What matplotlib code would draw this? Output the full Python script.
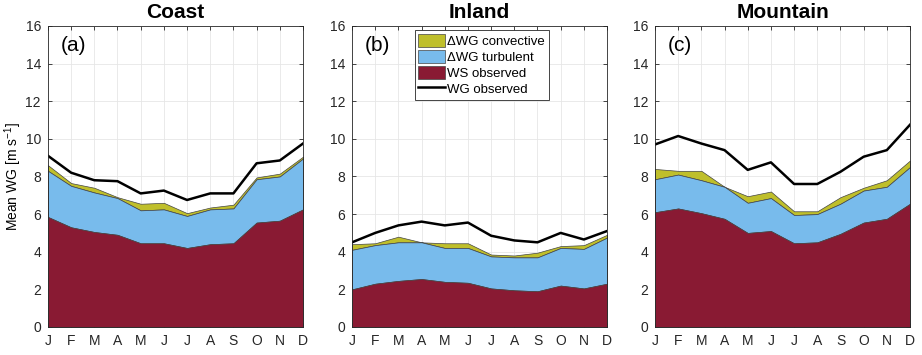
import numpy as np
import matplotlib
matplotlib.use("Agg")
import matplotlib.pyplot as plt
from matplotlib.patches import Patch
from matplotlib.lines import Line2D

plt.rcParams['font.family'] = ['Liberation Sans', 'DejaVu Sans']
plt.rcParams['mathtext.fontset'] = 'custom'
plt.rcParams['mathtext.rm'] = 'Liberation Sans'

# ── Datos ─────────────────────────────────────────────────────────────────────
months = ['J', 'F', 'M', 'A', 'M', 'J', 'J', 'A', 'S', 'O', 'N', 'D']
titles = ['Coast', 'Inland', 'Mountain']
panel_labels = ['(a)', '(b)', '(c)']

# WS observed (base)
ws_coast    = [5.85, 5.3, 5.05, 4.9, 4.45, 4.45, 4.2, 4.4, 4.45, 5.55, 5.65, 6.25]
ws_inland   = [2.0, 2.3, 2.45, 2.55, 2.4, 2.35, 2.05, 1.95, 1.9, 2.2, 2.05, 2.3]
ws_mountain = [6.1, 6.3, 6.05, 5.75, 5.0, 5.1, 4.45, 4.5, 4.95, 5.55, 5.75, 6.55]

# WS + dWG turbulent
turb_coast    = [8.3, 7.5, 7.15, 6.85, 6.2, 6.25, 5.9, 6.25, 6.3, 7.85, 8.0, 8.95]
turb_inland   = [4.1, 4.35, 4.5, 4.5, 4.2, 4.2, 3.75, 3.7, 3.7, 4.2, 4.15, 4.75]
turb_mountain = [7.85, 8.1, 7.8, 7.45, 6.6, 6.85, 5.95, 6.0, 6.55, 7.25, 7.45, 8.5]

# WS + dWG turbulent + dWG convective
conv_coast    = [8.6, 7.65, 7.4, 6.9, 6.55, 6.6, 6.05, 6.35, 6.5, 7.95, 8.15, 9.05]
conv_inland   = [4.4, 4.45, 4.8, 4.5, 4.45, 4.45, 3.85, 3.8, 3.95, 4.3, 4.35, 4.9]
conv_mountain = [8.4, 8.3, 8.3, 7.45, 6.95, 7.2, 6.15, 6.15, 6.9, 7.4, 7.8, 8.85]

# WG observed
wg_coast    = [9.1, 8.2, 7.8, 7.75, 7.1, 7.25, 6.75, 7.1, 7.1, 8.7, 8.85, 9.75]
wg_inland   = [4.5, 5.0, 5.4, 5.6, 5.4, 5.55, 4.85, 4.6, 4.5, 5.0, 4.65, 5.1]
wg_mountain = [9.7, 10.15, 9.75, 9.4, 8.35, 8.75, 7.6, 7.6, 8.25, 9.05, 9.4, 10.75]

ws_all   = [ws_coast, ws_inland, ws_mountain]
turb_all = [turb_coast, turb_inland, turb_mountain]
conv_all = [conv_coast, conv_inland, conv_mountain]
wg_all   = [wg_coast, wg_inland, wg_mountain]

c_ws   = '#891a33'
c_turb = '#78bbec'
c_conv = '#bfbf2b'
c_edge = '#444444'

# ── Figura ────────────────────────────────────────────────────────────────────
fig = plt.figure(figsize=(9.22, 3.55), dpi=100)
lefts = [0.052, 0.3818, 0.7104]
x = np.arange(1, 13)

for k in range(3):
    ax = fig.add_axes([lefts[k], 0.0789, 0.2766, 0.848])
    ws = np.array(ws_all[k])
    tu = np.array(turb_all[k])
    co = np.array(conv_all[k])
    ax.fill_between(x, tu, co, color=c_conv, edgecolor=c_edge, lw=0.5, zorder=2)
    ax.fill_between(x, ws, tu, color=c_turb, edgecolor=c_edge, lw=0.5, zorder=2)
    ax.fill_between(x, 0, ws, color=c_ws, edgecolor=c_edge, lw=0.5, zorder=2)
    ax.plot(x, wg_all[k], color='black', lw=1.8, zorder=3)

    ax.set_xlim(1, 12)
    ax.set_ylim(0, 16)
    ax.set_xticks(x)
    ax.set_xticklabels(months)
    ax.set_yticks(np.arange(0, 17, 2))
    ax.tick_params(direction='in', length=3, width=0.6, labelsize=10,
                   colors='#262626', top=True, right=True, pad=5)
    ax.grid(True, color='#e6e6e6', lw=0.6, zorder=0)
    ax.set_axisbelow(True)
    for s in ax.spines.values():
        s.set_color('#262626')
        s.set_linewidth(0.6)
        s.set_zorder(4)
    ax.set_title(titles[k], fontsize=15, fontweight='bold', pad=6)
    ax.text(0.05, 0.965, panel_labels[k], transform=ax.transAxes,
            fontsize=15, va='top', ha='left')
    if k == 0:
        ax.set_ylabel('Mean WG [m s$^{-1}$]', fontsize=10, labelpad=1)
    if k == 1:
        handles = [Patch(facecolor=c_conv, edgecolor=c_edge, lw=0.5),
                   Patch(facecolor=c_turb, edgecolor=c_edge, lw=0.5),
                   Patch(facecolor=c_ws, edgecolor=c_edge, lw=0.5),
                   Line2D([0], [0], color='black', lw=1.8)]
        labels = ['ΔWG convective', 'ΔWG turbulent',
                  'WS observed', 'WG observed']
        leg = ax.legend(handles, labels, loc='upper left',
                        bbox_to_anchor=(0.245, 0.985), fontsize=9.5,
                        fancybox=False, framealpha=1, edgecolor='#262626',
                        handlelength=2.0, handleheight=1.1, handletextpad=0.2,
                        labelspacing=0.15, borderpad=0.3, borderaxespad=0)
        leg.get_frame().set_linewidth(0.6)

plt.savefig('out.png', dpi=100)
